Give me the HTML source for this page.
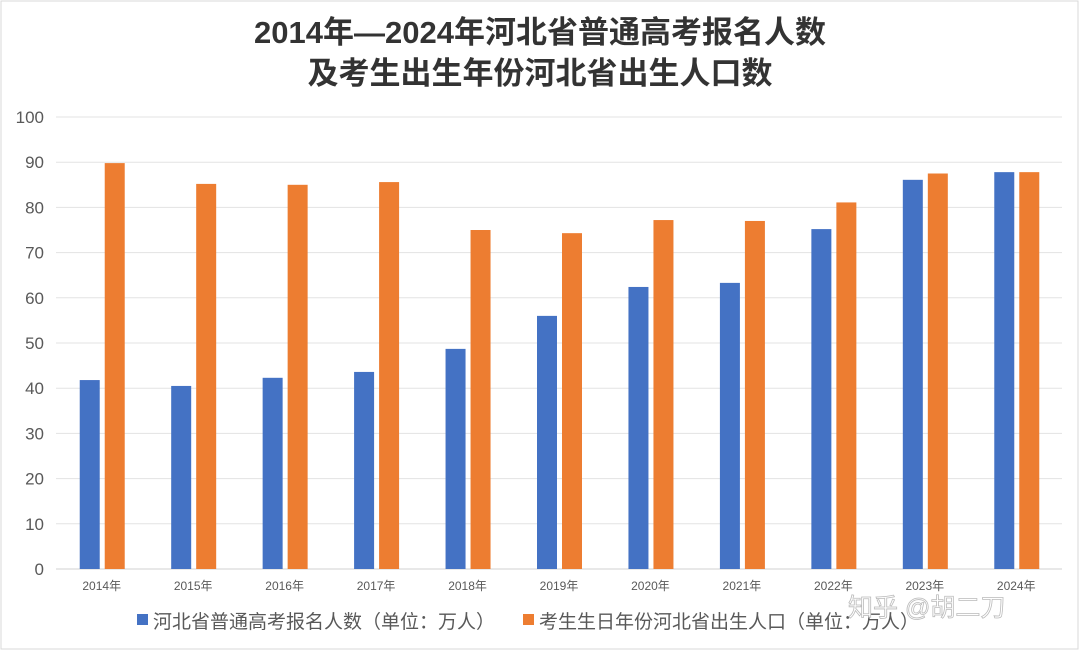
<!DOCTYPE html>
<html><head><meta charset="utf-8"><style>
body{margin:0;background:#fff;}
svg{display:block;font-family:"Liberation Sans","Noto Sans CJK SC",sans-serif;}
</style></head><body>
<svg id="c" width="1080" height="651">
<rect x="1" y="1" width="1077" height="648" fill="#fff" stroke="#d9d9d9"/>
<text x="540" y="43" text-anchor="middle" font-size="31" font-weight="bold" fill="#333">2014年—2024年河北省普通高考报名人数</text>
<text x="540" y="84" text-anchor="middle" font-size="31" font-weight="bold" fill="#333">及考生出生年份河北省出生人口数</text>
<g id="grid"></g><g id="bars"></g><g id="xl"></g>
<rect x="137" y="614" width="11" height="11" fill="#4472c4"/>
<text x="153" y="628" font-size="19" fill="#595959">河北省普通高考报名人数（单位：万人）</text>
<rect x="523" y="614" width="11" height="11" fill="#ed7d31"/>
<text x="539" y="628" font-size="19" fill="#595959">考生生日年份河北省出生人口（单位：万人）</text>
<text x="848" y="616" font-size="25" fill="#fff" stroke="#bbb" stroke-width="0.8">知乎 @胡二刀</text>
</svg>
<script>
const categories=["2014年","2015年","2016年","2017年","2018年","2019年","2020年","2021年","2022年","2023年","2024年"];
const applicants=[41.8,40.5,42.3,43.6,48.7,56.0,62.4,63.3,75.2,86.1,87.8];
const births=[89.8,85.2,85.0,85.6,75.0,74.3,77.2,77.0,81.1,87.5,87.8];
const yTicks=[0,10,20,30,40,50,60,70,80,90,100];
const NS="http://www.w3.org/2000/svg";
const x0=56,x1=1062,yb=569,yt=117,ymax=100;
const y=v=>yb-(v/ymax)*(yb-yt);
const band=(x1-x0)/categories.length;
const cx=i=>x0+band*(i+0.5);
function mk(t,a,p){const e=document.createElementNS(NS,t);for(const k in a)e.setAttribute(k,a[k]);p.appendChild(e);return e;}
const g=document.getElementById('grid');
yTicks.forEach(t=>{
 const l=mk('line',{x1:x0,x2:x1,y1:y(t),y2:y(t),stroke:t===0?'#d0d0d0':'#e3e3e3','stroke-width':1},g);
 
 
 const tx=mk('text',{x:44,y:y(t)+6,'text-anchor':'end','font-size':17,fill:'#595959'},g);
 tx.textContent=t;
 
 
});
const b=document.getElementById('bars'),xl=document.getElementById('xl');
categories.forEach((c,i)=>{
 const r1=mk('rect',{x:cx(i)-22,y:y(applicants[i]),width:20,height:yb-y(applicants[i]),fill:'#4472c4'},b);
 
 
 const r2=mk('rect',{x:cx(i)+3,y:y(births[i]),width:20,height:yb-y(births[i]),fill:'#ed7d31'},b);
 
 
 const t=mk('text',{x:cx(i),y:590,'text-anchor':'middle','font-size':12,fill:'#595959'},xl);
 t.textContent=c;
 
 
});
</script>
</body></html>
